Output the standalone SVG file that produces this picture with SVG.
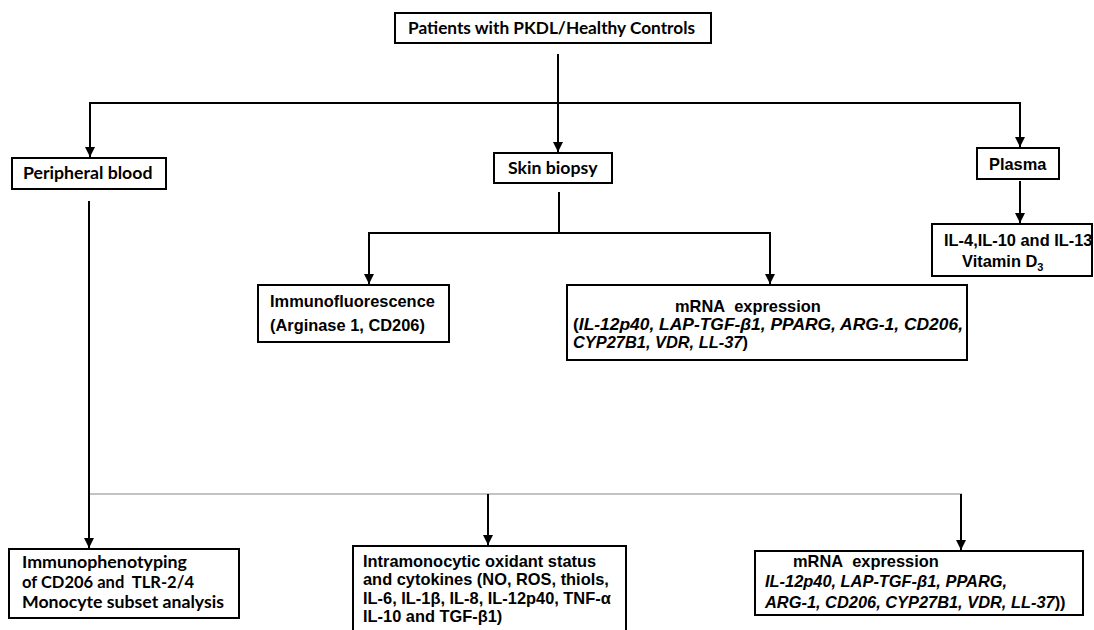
<svg xmlns="http://www.w3.org/2000/svg" width="1094" height="630" viewBox="0 0 1094 630">
<style>
.box{fill:#fff;stroke:#000;stroke-width:2}
.c{fill:none;stroke:#000;stroke-width:2}
.thin{fill:none;stroke:#888;stroke-width:1.2}
.ca{font-family:Lato,"Open Sans",sans-serif;font-weight:bold;font-size:17.7px;fill:#000}
.cs{font-size:16.4px}
.ar{font-family:"Liberation Sans",Arial,sans-serif;font-weight:bold;font-size:16.4px;fill:#000}
.it{font-style:italic}
</style>
<defs>
<marker id="ah" viewBox="0 0 10 10" refX="10" refY="5" markerWidth="10" markerHeight="10" markerUnits="userSpaceOnUse" orient="auto">
<path d="M0,0 L10,5 L0,10 z" fill="#000"/>
</marker>
</defs>
<rect width="1094" height="630" fill="#fff"/>
<g id="connectors">
<path class="c" d="M558,54 V103"/>
<path class="c" d="M90,103 H1020"/>
<path class="c" d="M90,102 V157" marker-end="url(#ah)"/>
<path class="c" d="M558,103 V152" marker-end="url(#ah)"/>
<path class="c" d="M1020,102 V147" marker-end="url(#ah)"/>
<path class="c" d="M1020,181 V223" marker-end="url(#ah)"/>
<path class="c" d="M559,192 V233"/>
<path class="c" d="M369,233 H770"/>
<path class="c" d="M369,232 V284" marker-end="url(#ah)"/>
<path class="c" d="M770,232 V284" marker-end="url(#ah)"/>
<path class="c" d="M89,201 V548" marker-end="url(#ah)"/>
<path class="thin" d="M90,494 H962"/>
<path class="c" d="M488,494 V545" marker-end="url(#ah)"/>
<path class="c" d="M961,494 V550" marker-end="url(#ah)"/>
</g>
<g id="n-top">
<rect class="box" x="395" y="13" width="316" height="30"/>
<text class="ca" x="408" y="34" textLength="287" lengthAdjust="spacingAndGlyphs">Patients with PKDL/Healthy Controls</text>
</g>
<g id="n-pb">
<rect class="box" x="12" y="158" width="154" height="31"/>
<text class="ca" x="23" y="179">Peripheral blood</text>
</g>
<g id="n-skin">
<rect class="box" x="494" y="153" width="118" height="30"/>
<text class="ca" x="508" y="174">Skin biopsy</text>
</g>
<g id="n-plasma">
<rect class="box" x="977" y="148" width="82" height="31"/>
<text class="ar" x="989" y="170">Plasma</text>
</g>
<g id="n-il">
<rect class="box" x="932" y="224" width="160" height="52"/>
<text class="ar" x="944" y="246">IL-4,IL-10 and IL-13</text>
<text class="ar" x="962" y="267">Vitamin D<tspan font-size="11" dy="4">3</tspan></text>
</g>
<g id="n-if">
<rect class="box" x="258" y="285" width="191" height="57"/>
<text class="ar" x="270" y="307">Immunofluorescence</text>
<text class="ar" x="270" y="331">(Arginase 1, CD206)</text>
</g>
<g id="n-mrna1">
<rect class="box" x="567" y="285" width="400" height="75"/>
<text class="ar" x="675" y="312">mRNA&#160; expression</text>
<text class="ar" x="573" y="330" textLength="390" lengthAdjust="spacingAndGlyphs">(<tspan class="it">IL-12p40, LAP-TGF-β1, PPARG, ARG-1, CD206,</tspan></text>
<text class="ar" x="573" y="348" font-size="17.5"><tspan class="it">CYP27B1, VDR, LL-37</tspan>)</text>
</g>
<g id="n-immuno">
<rect class="box" x="9" y="549" width="230" height="69"/>
<text class="ca cs" x="22" y="568" textLength="165" lengthAdjust="spacingAndGlyphs">Immunophenotyping</text>
<text class="ca cs" x="22" y="588" textLength="172" lengthAdjust="spacingAndGlyphs">of CD206 and&#160; TLR-2/4</text>
<text class="ca cs" x="22" y="608" textLength="202" lengthAdjust="spacingAndGlyphs">Monocyte subset analysis</text>
</g>
<g id="n-intra">
<rect class="box" x="353" y="546" width="273" height="90"/>
<text class="ar" x="363" y="567">Intramonocytic oxidant status</text>
<text class="ar" x="363" y="585">and cytokines (NO, ROS, thiols,</text>
<text class="ar" x="363" y="604">IL-6, IL-1β, IL-8, IL-12p40, TNF-α</text>
<text class="ar" x="363" y="622">IL-10 and TGF-β1)</text>
</g>
<g id="n-mrna2">
<rect class="box" x="755" y="551" width="328" height="64"/>
<text class="ar" x="793" y="567">mRNA&#160; expression</text>
<text class="ar it" x="765" y="587">IL-12p40, LAP-TGF-β1, PPARG,</text>
<text class="ar" x="765" y="608"><tspan class="it">ARG-1, CD206, CYP27B1, VDR, LL-37</tspan>))</text>
</g>
</svg>
